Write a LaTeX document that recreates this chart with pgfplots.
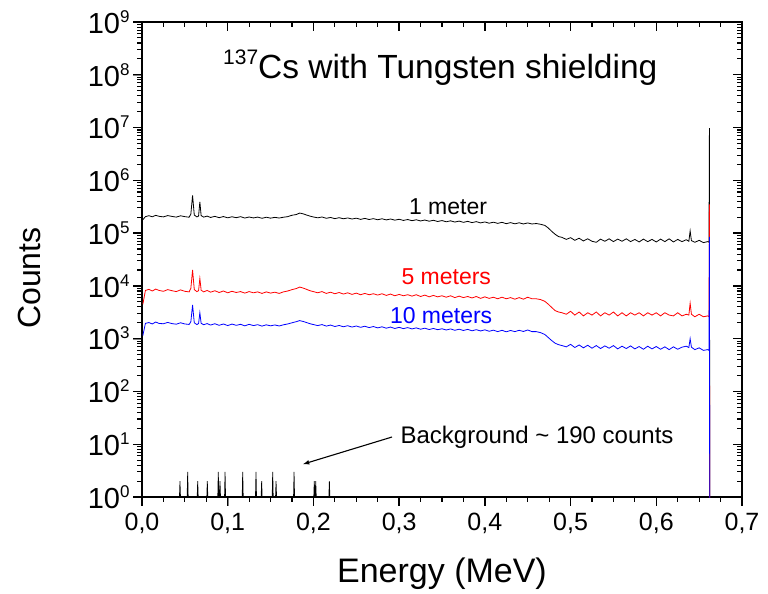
\documentclass[border=0pt]{standalone}
\usepackage{fontspec}
\setmainfont{Liberation Sans}
\usepackage{pgfplots}
\usepackage{pgfplotstable}
\pgfplotsset{compat=1.18}
\newcommand{\myexp}[1]{\raisebox{11pt}{\fontsize{17}{17}\selectfont #1}}
\pgfplotstableread{
E k r b
0.001 1.8e5 4.5e3 1.15e3
0.004 2.05e5 8.2e3 1.95e3
0.008 2.14e5 8.6e3 2.02e3
0.012 2.04e5 8.0e3 1.9e3
0.016 2.17e5 8.7e3 2.07e3
0.020 2.08e5 8.2e3 1.94e3
0.025 2.03e5 7.9e3 1.92e3
0.030 2.15e5 8.5e3 2.03e3
0.035 2.07e5 8.1e3 1.93e3
0.040 2.01e5 7.8e3 1.88e3
0.045 2.13e5 8.4e3 2.0e3
0.050 2.05e5 7.9e3 1.9e3
0.055 2.0e5 7.7e3 1.86e3
0.057 2.3e5 9.0e3 2.1e3
0.059 5.2e5 2.0e4 4.35e3
0.061 2.2e5 8.5e3 2.0e3
0.064 2.03e5 7.8e3 1.85e3
0.066 2.1e5 8.1e3 1.93e3
0.0675 3.9e5 1.38e4 3.1e3
0.069 2.15e5 8.3e3 1.95e3
0.072 2.01e5 7.7e3 1.84e3
0.076 2.1e5 8.2e3 1.93e3
0.080 1.98e5 7.6e3 1.81e3
0.085 2.08e5 8.1e3 1.92e3
0.090 1.96e5 7.5e3 1.79e3
0.095 2.06e5 8.0e3 1.9e3
0.100 1.95e5 7.4e3 1.77e3
0.105 2.04e5 7.9e3 1.89e3
0.110 1.96e5 7.5e3 1.79e3
0.115 2.05e5 7.8e3 1.87e3
0.120 1.93e5 7.3e3 1.75e3
0.125 2.02e5 7.8e3 1.87e3
0.130 1.94e5 7.4e3 1.77e3
0.135 2.01e5 7.7e3 1.84e3
0.140 1.91e5 7.2e3 1.73e3
0.145 2.0e5 7.7e3 1.83e3
0.150 1.92e5 7.3e3 1.75e3
0.155 1.99e5 7.6e3 1.82e3
0.160 1.93e5 7.2e3 1.74e3
0.165 2.0e5 7.7e3 1.83e3
0.170 2.05e5 8.0e3 1.9e3
0.175 2.18e5 8.5e3 2.0e3
0.180 2.25e5 8.9e3 2.1e3
0.184 2.4e5 9.5e3 2.2e3
0.188 2.32e5 9.1e3 2.12e3
0.192 2.2e5 8.6e3 2.02e3
0.196 2.1e5 8.1e3 1.92e3
0.200 2.02e5 7.8e3 1.85e3
0.205 1.95e5 7.4e3 1.77e3
0.210 2.02e5 7.8e3 1.85e3
0.215 1.91e5 7.2e3 1.73e3
0.220 1.98e5 7.6e3 1.81e3
0.225 1.88e5 7.1e3 1.7e3
0.230 1.96e5 7.5e3 1.78e3
0.235 1.87e5 7.0e3 1.68e3
0.240 1.94e5 7.4e3 1.76e3
0.245 1.85e5 6.9e3 1.66e3
0.250 1.92e5 7.3e3 1.74e3
0.255 1.82e5 6.8e3 1.64e3
0.260 1.9e5 7.2e3 1.72e3
0.265 1.81e5 6.8e3 1.62e3
0.270 1.88e5 7.1e3 1.7e3
0.275 1.79e5 6.7e3 1.6e3
0.280 1.87e5 7.1e3 1.68e3
0.285 1.78e5 6.6e3 1.58e3
0.290 1.85e5 7.0e3 1.66e3
0.295 1.76e5 6.5e3 1.56e3
0.300 1.83e5 6.9e3 1.64e3
0.305 1.74e5 6.5e3 1.55e3
0.310 1.81e5 6.8e3 1.62e3
0.315 1.72e5 6.4e3 1.53e3
0.320 1.79e5 6.8e3 1.6e3
0.325 1.7e5 6.3e3 1.51e3
0.330 1.77e5 6.7e3 1.58e3
0.335 1.68e5 6.2e3 1.49e3
0.340 1.75e5 6.6e3 1.56e3
0.345 1.66e5 6.2e3 1.48e3
0.350 1.73e5 6.5e3 1.54e3
0.355 1.64e5 6.1e3 1.46e3
0.360 1.71e5 6.5e3 1.53e3
0.365 1.62e5 6.0e3 1.44e3
0.370 1.69e5 6.4e3 1.51e3
0.375 1.6e5 6.0e3 1.43e3
0.380 1.67e5 6.3e3 1.5e3
0.385 1.58e5 5.9e3 1.41e3
0.390 1.65e5 6.3e3 1.48e3
0.395 1.56e5 5.8e3 1.4e3
0.400 1.63e5 6.2e3 1.47e3
0.405 1.54e5 5.8e3 1.38e3
0.410 1.61e5 6.1e3 1.45e3
0.415 1.53e5 5.7e3 1.36e3
0.420 1.6e5 6.1e3 1.44e3
0.425 1.51e5 5.7e3 1.35e3
0.430 1.58e5 6.0e3 1.43e3
0.435 1.5e5 5.6e3 1.36e3
0.440 1.57e5 6.0e3 1.44e3
0.445 1.49e5 5.6e3 1.37e3
0.450 1.56e5 6.1e3 1.46e3
0.455 1.49e5 5.7e3 1.36e3
0.460 1.52e5 5.7e3 1.36e3
0.465 1.47e5 5.5e3 1.3e3
0.470 1.4e5 5.1e3 1.2e3
0.474 1.25e5 4.5e3 1.05e3
0.478 1.08e5 3.9e3 920
0.482 9.5e4 3.4e3 820
0.486 8.6e4 3.2e3 770
0.490 8.3e4 3.1e3 740
0.495 7.6e4 2.9e3 700
0.500 8.2e4 3.3e3 780
0.505 7.3e4 2.8e3 680
0.510 8.0e4 3.2e3 760
0.515 7.1e4 2.7e3 670
0.520 7.8e4 3.1e3 750
0.525 7.0e4 2.8e3 660
0.530 6.7e4 3.2e3 740
0.535 7.7e4 2.7e3 650
0.540 7.0e4 3.1e3 730
0.545 7.8e4 2.8e3 660
0.550 6.9e4 3.2e3 740
0.555 7.7e4 2.7e3 640
0.560 7.0e4 3.1e3 720
0.565 7.8e4 2.7e3 650
0.570 6.9e4 3.1e3 730
0.575 7.6e4 2.8e3 640
0.580 6.8e4 3.1e3 710
0.585 7.7e4 2.7e3 630
0.590 6.9e4 3.1e3 720
0.595 7.6e4 2.8e3 640
0.600 6.8e4 3.1e3 710
0.605 7.7e4 2.7e3 630
0.610 6.9e4 3.1e3 700
0.615 7.8e4 2.8e3 620
0.620 6.8e4 2.7e3 700
0.625 7.6e4 3.1e3 630
0.630 6.9e4 2.7e3 690
0.635 7.5e4 2.9e3 720
0.638 7.0e4 2.8e3 680
0.6395 1.1e5 4.7e3 1000
0.641 7.2e4 2.9e3 690
0.645 6.7e4 2.6e3 620
0.650 7.3e4 2.9e3 670
0.655 6.6e4 2.6e3 600
0.660 6.9e4 2.7e3 620
0.6615 6.7e4 2.6e3 600
0.662 9.8e6 3.5e5 8.5e4
0.6625 1e-3 1e-3 1e-3
}\spec
\pgfplotstableread{
E c
0.0437 1
0.0443 2
0.0449 1
0.0527 1
0.0533 3
0.0539 1
0.0644 1
0.0650 2
0.0656 1
0.0756 1
0.0762 2
0.0768 1
0.0884 1
0.0890 3
0.0896 1
0.0904 1
0.0910 2
0.0916 1
0.0963 1
0.0969 3
0.0975 1
0.1169 1
0.1175 3
0.1181 1
0.1324 1
0.1330 3
0.1336 1
0.1390 1
0.1396 2
0.1402 1
0.1519 1
0.1525 3
0.1531 1
0.1558 1
0.1564 2
0.1570 1
0.1768 1
0.1774 3
0.1780 1
0.2004 1
0.2010 2
0.2016 1
0.2021 1
0.2027 2
0.2033 1
0.2180 1
0.2186 2
0.2192 1
}\bkg
\begin{document}
\begin{tikzpicture}
\begin{axis}[
    at={(0pt,0pt)}, anchor=south west,
    width=600pt, height=475pt, scale only axis,
    xmin=0, xmax=0.7, ymode=log, log basis y=10, ymin=1, ymax=1e9,
    xtick={0,0.1,0.2,0.3,0.4,0.5,0.6,0.7},
    ytick={1,10,100,1000,1e4,1e5,1e6,1e7,1e8,1e9},
    major tick length=9pt,
    axis line style={line width=1.6pt},
    xtick pos=bottom, ytick pos=left, tick align=outside,
    xticklabel style={font=\fontsize{25}{28}\selectfont, yshift=-4pt},
    yticklabel style={font=\fontsize{29}{32}\selectfont},
    /pgf/number format/use comma,
    /pgf/number format/fixed,
    /pgf/number format/fixed zerofill,
    /pgf/number format/precision=1,
    /pgf/number format/assume math mode=true,
    yticklabels={10\myexp{0},10\myexp{1},10\myexp{2},10\myexp{3},10\myexp{4},10\myexp{5},10\myexp{6},10\myexp{7},10\myexp{8},10\myexp{9}},
    xlabel={Energy (MeV)}, ylabel={Counts},
    xlabel style={font=\fontsize{34}{38}\selectfont, at={(axis description cs:0.5,-0.162)}, anchor=center, inner sep=0pt},
    ylabel style={font=\fontsize{32}{36}\selectfont, at={(axis description cs:-0.187,0.461)}, anchor=center, inner sep=0pt},
]
\addplot[black, line width=0.8pt] table[x=E, y=k] {\spec};
\addplot[red, line width=0.8pt] table[x=E, y=r] {\spec};
\addplot[blue, line width=0.8pt] table[x=E, y=b] {\spec};
\addplot[black, line width=0.7pt] table[x=E, y=c] {\bkg};
\node[font=\fontsize{33.5}{36}\selectfont] at (axis cs:0.348,1.34e8) {\raisebox{14pt}{\fontsize{21}{21}\selectfont 137}Cs with Tungsten shielding};
\node[font=\fontsize{23}{26}\selectfont, black] at (axis cs:0.357,3.12e5) {1 meter};
\node[font=\fontsize{23}{26}\selectfont, red] at (axis cs:0.355,1.47e4) {5 meters};
\node[font=\fontsize{23}{26}\selectfont, blue] at (axis cs:0.349,2.69e3) {10 meters};
\node[font=\fontsize{24}{26}\selectfont, anchor=west, inner sep=0pt] at (axis cs:0.3015,13.7) {Background \textasciitilde{} 190 counts};
\draw[-latex, line width=1.1pt] (axis cs:0.2917,13.7) -- (axis cs:0.188,4.2);
\end{axis}
% tick marks: outside on left/bottom, inside on top/right
\begin{scope}[x=1pt, y=1pt, black]
  \foreach \i in {0,...,28} {
    \draw[line width=1.1pt] ({\i*21.42857},0) -- ({\i*21.42857},-5);
    \draw[line width=1.1pt] ({\i*21.42857},475) -- ({\i*21.42857},470);
  }
  \foreach \i in {0,...,7} {
    \draw[line width=1.3pt] ({\i*85.71429},0) -- ({\i*85.71429},-9);
    \draw[line width=1.3pt] ({\i*85.71429},475) -- ({\i*85.71429},466);
  }
  \foreach \j in {0,...,9} {
    \draw[line width=1.3pt] (0,{\j*52.77778}) -- (-9,{\j*52.77778});
    \draw[line width=1.3pt] (600,{\j*52.77778}) -- (591,{\j*52.77778});
  }
  \foreach \j in {0,...,8} {
    \foreach \f in {0.30103,0.47712,0.60206,0.69897,0.77815,0.84510,0.90309,0.95424} {
      \draw[line width=1.1pt] (0,{(\j+\f)*52.77778}) -- (-5,{(\j+\f)*52.77778});
      \draw[line width=1.1pt] (600,{(\j+\f)*52.77778}) -- (595,{(\j+\f)*52.77778});
    }
  }
\end{scope}
\pgfresetboundingbox
\path (-142pt,-97pt) rectangle (626pt,497pt);
\end{tikzpicture}
\end{document}
